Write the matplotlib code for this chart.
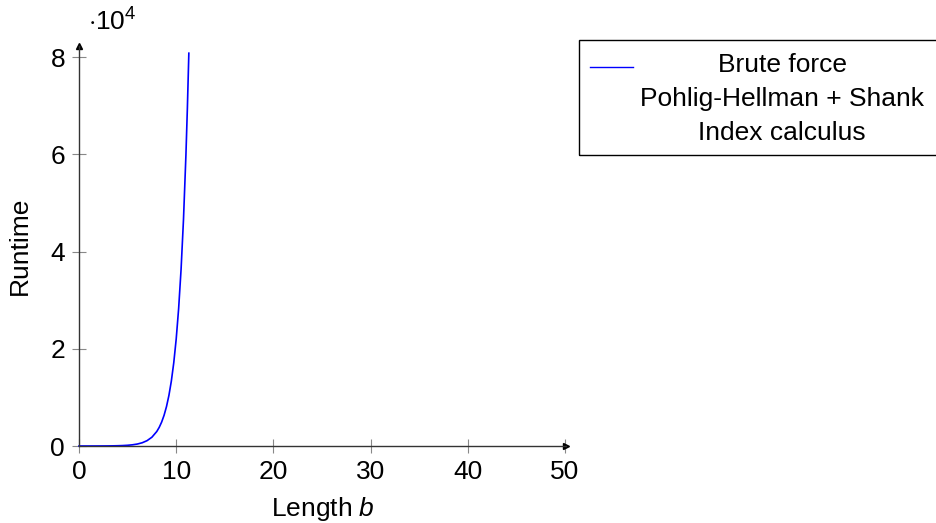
import matplotlib

matplotlib.use("Agg")
import matplotlib.pyplot as plt
from matplotlib.lines import Line2D
from matplotlib.patches import Rectangle

# values (runtime in units of 10^4)
length_b = [0, 0.5, 1, 1.5, 2, 2.5, 3, 3.5, 4, 4.5, 5, 5.5, 6, 6.5, 7, 7.5,
            8, 8.25, 8.5, 8.75, 9, 9.25, 9.5, 9.75, 10, 10.25, 10.5, 10.75,
            11, 11.15, 11.3]
brute_force = [0.0001, 0.00016, 0.00027, 0.00045, 0.00074, 0.0012, 0.002,
               0.0033, 0.0055, 0.009, 0.0148, 0.0245, 0.0403, 0.0665, 0.1097,
               0.1808, 0.2981, 0.3828, 0.4915, 0.6311, 0.8103, 1.0405,
               1.3360, 1.7154, 2.2026, 2.8283, 3.6316, 4.6630, 5.9874,
               6.9566, 8.0821]
legend_labels = ["Brute force", "Pohlig-Hellman + Shank", "Index calculus"]
x_ticks = [0, 10, 20, 30, 40, 50]
y_ticks = [0, 2, 4, 6, 8]

plt.rcParams["font.family"] = ["Liberation Sans", "DejaVu Sans"]
plt.rcParams["mathtext.fontset"] = "custom"
plt.rcParams["mathtext.it"] = "Liberation Sans:italic"
plt.rcParams["mathtext.rm"] = "Liberation Sans"

W, H = 936, 523
fig = plt.figure(figsize=(W / 100, H / 100), dpi=100)
x0, x1 = 79, 566
y0, y1 = 446, 46
ax = fig.add_axes([x0 / W, (H - y0) / H, (x1 - x0) / W, (y0 - y1) / H])

ax.plot(length_b, brute_force, color="#0000ff", lw=1.2, clip_on=False)
ax.set_xlim(0, 50.1)
ax.set_ylim(0, 8.23)

for side in ("top", "right"):
    ax.spines[side].set_visible(False)
for side in ("left", "bottom"):
    ax.spines[side].set_color("#333333")
    ax.spines[side].set_linewidth(1.0)
ax.plot(1, 0, marker=">", color="black", ms=4.5, transform=ax.transAxes, clip_on=False)
ax.plot(0, 1, marker="^", color="black", ms=4.5, transform=ax.transAxes, clip_on=False)

ax.set_xticks(x_ticks)
ax.set_yticks(y_ticks)
ax.tick_params(direction="inout", length=10, width=0.8, color="#888888",
               labelsize=19, pad=5)
ax.set_xlabel("Length $b$", fontsize=19, labelpad=8)
ax.set_ylabel("Runtime", fontsize=19, labelpad=13)
fig.text(88 / W, 1 - 22 / H, r"$\cdot$10$^4$", fontsize=19, va="center")

# legend box drawn by hand: entries are centred as in the source figure
fig.patches.append(Rectangle((579 / W, 1 - 155 / H), 400 / W, 115 / H,
                             transform=fig.transFigure, fill=False,
                             ec="black", lw=1.0))
fig.lines.append(Line2D([590 / W, 633 / W], [1 - 67 / H, 1 - 67 / H],
                        transform=fig.transFigure, color="#0000ff", lw=1.0))
for i, lab in enumerate(legend_labels):
    fig.text(782 / W, 1 - (65 + 34 * i) / H, lab, fontsize=19,
             ha="center", va="center")

fig.savefig("out.png", dpi=100)
